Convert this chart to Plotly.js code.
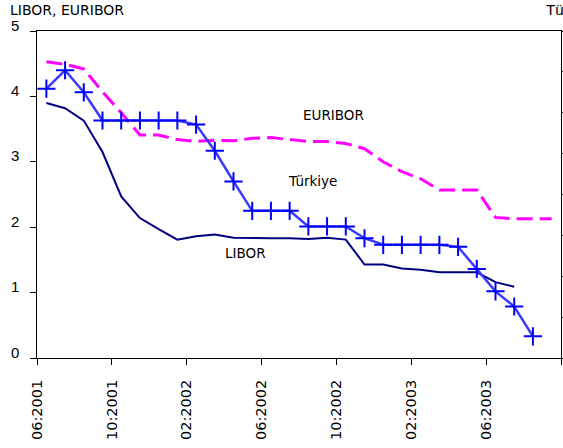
<!DOCTYPE html>
<html>
<head>
<meta charset="utf-8">
<script src="https://cdn.plot.ly/plotly-3.0.1.min.js"></script>
<style>html,body{margin:0;padding:0;background:#fff;}#chart{width:563px;height:448px;}</style>
</head>
<body>
<div id="chart"></div>
<script>
// Monthly categories
const months = ['06:2001','07:2001','08:2001','09:2001','10:2001','11:2001','12:2001',
  '01:2002','02:2002','03:2002','04:2002','05:2002','06:2002','07:2002','08:2002','09:2002','10:2002','11:2002','12:2002',
  '01:2003','02:2003','03:2003','04:2003','05:2003','06:2003','07:2003','08:2003','09:2003'];

// LIBOR (left axis, %)
const libor = [3.90,3.82,3.63,3.15,2.47,2.14,1.97,1.81,1.86,1.89,1.84,1.83,1.83,1.83,1.82,1.84,1.81,1.43,1.43,1.37,1.35,1.31,1.31,1.31,1.16,1.09];

// EURIBOR (left axis, %)
const euribor = [4.53,4.49,4.42,4.07,3.75,3.41,3.41,3.34,3.31,3.33,3.32,3.36,3.37,3.34,3.31,3.31,3.28,3.20,3.00,2.85,2.74,2.57,2.57,2.57,2.15,2.13,2.13,2.13];

// Türkiye (right axis)
const turkiye = [65.9,70.4,65.0,58.1,58.1,58.1,58.1,58.1,57.1,50.7,43.2,36.0,36.0,36.0,32.2,32.2,32.2,29.3,27.7,27.7,27.7,27.7,27.2,21.8,16.3,12.6,5.3];

// Left axis tick values
const yTicks = [0,1,2,3,4,5];

// Tick labels every 4 months (at month boundaries)
const tickIdx = [0,4,8,12,16,20,24,28];
const tickText = tickIdx.map(i => months[i] || '');

const idx = arr => arr.map((v,i) => i);

const traces = [
  {x: idx(euribor), y: euribor, name: 'EURIBOR', type: 'scatter', mode: 'lines',
   line: {color: '#ff00ff', width: 3, dash: '16px,7px'}, yaxis: 'y'},
  {x: idx(libor), y: libor, name: 'LIBOR', type: 'scatter', mode: 'lines',
   line: {color: '#000080', width: 2}, yaxis: 'y'},
  {x: idx(turkiye), y: turkiye, name: 'Türkiye', type: 'scatter', mode: 'lines+markers',
   line: {color: '#3a3aff', width: 2.5},
   marker: {symbol: 'cross-thin', size: 13, line: {color: '#0000ff', width: 2}},
   yaxis: 'y2'}
];

const textFont = {family: 'DejaVu Sans', size: 13.5, color: '#000'};

// Left tick labels sit just above their tick marks (bottom of digit on the tick)
const yLabelAnn = yTicks.map(v => ({
  text: String(v), xref: 'paper', yref: 'y', x: -0.0313, y: v, yshift: 6,
  xanchor: 'right', yanchor: 'middle', showarrow: false,
  font: {family: 'Liberation Sans', size: 15, color: '#000'}
}));

const layout = {
  width: 563, height: 448,
  margin: {l: 36.7, r: 2.3, t: 30.7, b: 89.7, pad: 0},
  paper_bgcolor: '#fff', plot_bgcolor: '#fff',
  showlegend: false,
  xaxis: {
    range: [-0.5, 27.5], tickmode: 'array',
    tickvals: tickIdx.map(i => i - 0.5), ticktext: tickText,
    tickangle: -90, ticks: 'outside', ticklen: 6, tickcolor: '#000',
    showline: true, linecolor: '#000', linewidth: 1, mirror: true,
    showgrid: false, zeroline: false,
    tickfont: {family: 'DejaVu Sans', size: 14.5, color: '#000'},
    ticklabelstandoff: 9
  },
  yaxis: {
    range: [0, 5], tickmode: 'array', tickvals: yTicks, showticklabels: false,
    ticks: 'outside', ticklen: 6, tickcolor: '#000',
    showline: true, linecolor: '#000', linewidth: 1,
    showgrid: false, zeroline: false
  },
  yaxis2: {
    range: [0, 80], dtick: 10, overlaying: 'y', side: 'right',
    ticks: 'outside', ticklen: 6, tickcolor: '#000', showticklabels: false,
    showline: true, linecolor: '#000', linewidth: 1,
    showgrid: false, zeroline: false
  },
  annotations: yLabelAnn.concat([
    {text: 'LIBOR, EURIBOR', xref: 'paper', yref: 'paper', x: -0.0561, y: 1.0653,
     xanchor: 'left', yanchor: 'middle', showarrow: false,
     font: {family: 'DejaVu Sans', size: 14, color: '#000'}},
    {text: 'Türkiye', xref: 'paper', yref: 'paper', x: 0.968, y: 1.066,
     xanchor: 'left', yanchor: 'middle', showarrow: false,
     font: {family: 'Liberation Sans', size: 15, color: '#000'}},
    {text: 'EURIBOR', xref: 'paper', yref: 'paper', x: 0.5655, y: 0.7427,
     xanchor: 'center', yanchor: 'middle', showarrow: false, font: textFont},
    {text: 'Türkiye', xref: 'paper', yref: 'paper', x: 0.5263, y: 0.5412,
     xanchor: 'center', yanchor: 'middle', showarrow: false, font: textFont},
    {text: 'LIBOR', xref: 'paper', yref: 'paper', x: 0.3975, y: 0.3214,
     xanchor: 'center', yanchor: 'middle', showarrow: false, font: textFont}
  ])
};

Plotly.newPlot('chart', traces, layout, {staticPlot: true, displayModeBar: false});
</script>
</body>
</html>
